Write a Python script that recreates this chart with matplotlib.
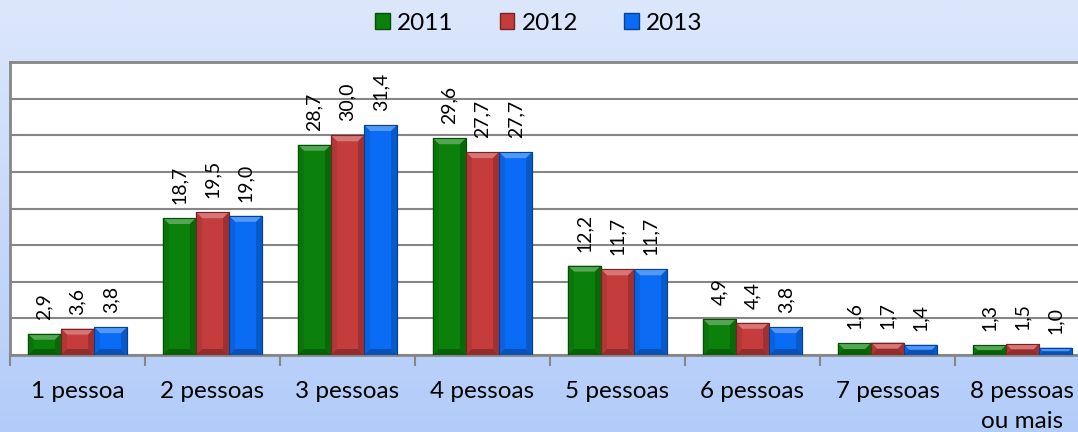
import matplotlib
matplotlib.use("Agg")
import matplotlib.pyplot as plt
import numpy as np
from matplotlib.patches import Polygon, Rectangle
import matplotlib.colors as mcolors

categories = ["1 pessoa", "2 pessoas", "3 pessoas", "4 pessoas", "5 pessoas",
              "6 pessoas", "7 pessoas", "8 pessoas\nou mais"]
years = ["2011", "2012", "2013"]
v2011 = [2.9, 18.7, 28.7, 29.6, 12.2, 4.9, 1.6, 1.3]
v2012 = [3.6, 19.5, 30.0, 27.7, 11.7, 4.4, 1.7, 1.5]
v2013 = [3.8, 19.0, 31.4, 27.7, 11.7, 3.8, 1.4, 1.0]
series = [v2011, v2012, v2013]
colors = ["#0b800b", "#c43c3c", "#0a6cf5"]

FONT = "Lato"
W, H, DPI = 1078, 432, 100
fig = plt.figure(figsize=(W / DPI, H / DPI), dpi=DPI)

# gradient background
bg = fig.add_axes([0, 0, 1, 1], zorder=-10)
grad = np.linspace(0, 1, 256).reshape(-1, 1)
top_c = np.array(mcolors.to_rgb("#dce7fc"))
bot_c = np.array(mcolors.to_rgb("#b2ccf9"))
img = top_c[None, None, :] * (1 - grad[..., None]) + bot_c[None, None, :] * grad[..., None]
bg.imshow(img, aspect="auto", extent=[0, 1, 0, 1])
bg.axis("off")

left = 10 / W
right = 1090 / W
bottom = 1 - 355 / H
top = 1 - 62 / H
ax = fig.add_axes([left, bottom, right - left, top - bottom])
ax.set_facecolor("white")
ax.set_xlim(-0.5, len(categories) - 0.5)
ax.set_ylim(0, 40)

x = np.arange(len(categories))
bw = 0.245
offsets = [-bw, 0, bw]

# pixel to data conversions
px_x = (len(categories)) / (right - left) / W
px_y = 40 / ((top - bottom) * H)

def shade(c, f):
    r = np.array(mcolors.to_rgb(c))
    if f > 0:
        r = r + (1 - r) * f
    else:
        r = r * (1 + f)
    return tuple(np.clip(r, 0, 1))

for s, vals, col, off in zip(years, series, colors, offsets):
    bars = ax.bar(x + off, vals, width=bw, color=col, edgecolor=shade(col, -0.35),
                  linewidth=0.8, zorder=3, label=s)
    for b, v in zip(bars, vals):
        x0, x1 = b.get_x(), b.get_x() + b.get_width()
        y0, y1 = 0, b.get_height()
        d_px = min(6, (y1 / px_y) / 2)
        dx = d_px * px_x
        dy = d_px * px_y
        faces = [
            ([(x0, y1), (x1, y1), (x1 - dx, y1 - dy), (x0 + dx, y1 - dy)], 0.3),
            ([(x0, y0), (x0, y1), (x0 + dx, y1 - dy), (x0 + dx, y0 + dy)], -0.08),
            ([(x1, y0), (x1, y1), (x1 - dx, y1 - dy), (x1 - dx, y0 + dy)], -0.18),
            ([(x0, y0), (x1, y0), (x1 - dx, y0 + dy), (x0 + dx, y0 + dy)], -0.25),
        ]
        for pts, f in faces:
            ax.add_patch(Polygon(pts, closed=True, facecolor=shade(col, f),
                                 edgecolor="none", zorder=3.5))
        ax.add_patch(Rectangle((x0, y0), x1 - x0, y1 - y0, fill=False,
                               edgecolor=shade(col, -0.4), linewidth=0.8, zorder=3.6))
        ax.annotate(f"{v:.1f}".replace(".", ","), (b.get_x() + b.get_width() / 2, y1),
                    xytext=(0, 14), textcoords="offset pixels", rotation=90,
                    ha="center", va="bottom", fontsize=14, family=FONT, color="black",
                    zorder=5)

# grid
ax.set_yticks(np.arange(0, 41, 5))
ax.yaxis.grid(True, color="#868686", linewidth=1.5, zorder=1)
ax.tick_params(axis="y", left=False, labelleft=False)

ax.set_xticks(x)
ax.set_xticklabels(categories, fontsize=17.5, family=FONT, color="black", linespacing=1.5)
ax.set_xticks(np.arange(-0.5, len(categories) + 0.5, 1), minor=True)
ax.tick_params(axis="x", which="major", length=0, pad=19)
ax.tick_params(axis="x", which="minor", length=8, width=1.5, color="#868686", direction="out")

for sp in ["left", "top", "bottom", "right"]:
    ax.spines[sp].set_color("#868686")
    ax.spines[sp].set_linewidth(2)

handles = [Rectangle((0, 0), 1, 1, facecolor=c, edgecolor=shade(c, -0.4)) for c in colors]
leg = fig.legend(handles, years, loc="center", bbox_to_anchor=(0.5, 1 - 23 / H), ncol=3,
                 frameon=False, prop={"family": FONT, "size": 17.5}, handlelength=0.6,
                 handleheight=0.6, handletextpad=0.3, columnspacing=1.9)

fig.savefig("out.png", dpi=DPI)
